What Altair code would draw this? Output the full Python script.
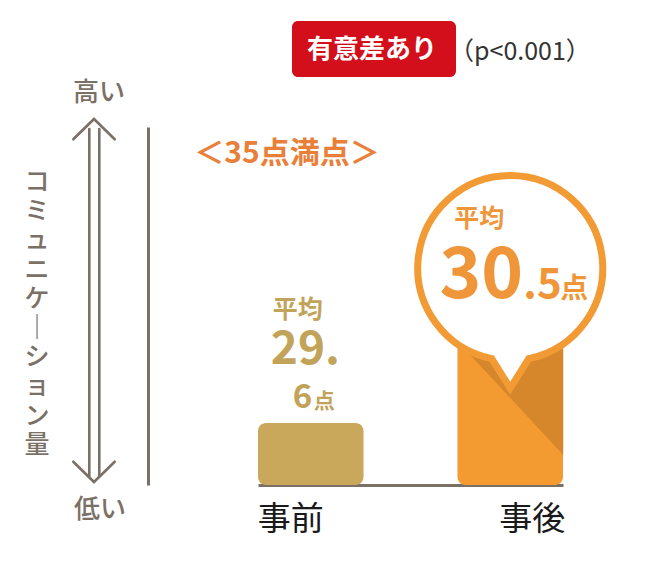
import altair as alt
import pandas as pd

# ---- data ----
categories = ["事前", "事後"]
scores = [29.6, 30.5]
bar_colors = ["#C9A85C", "#F39B31"]
text_colors = ["#C2A35A", "#F0963A"]
y_label_chars = ["コ", "ミ", "ュ", "ニ", "ケ", "｜", "シ", "ョ", "ン", "量"]
full_marks_text = "＜35点満点＞"
sig_text = "有意差あり"
p_text = "（p<0.001）"
high_text = "高い"
low_text = "低い"
avg_text = "平均"
unit_text = "点"

Y_MIN, Y_MAX = 29.15, 31.75

AX = "#7B7066"
DARK = "#D6862B"
RING = "#F29A33"
FONT = "Noto Sans CJK JP"

df = pd.DataFrame({"cat": categories, "score": scores,
                   "color": bar_colors, "tcolor": text_colors})
ann = pd.DataFrame({"k": [0]})

x_enc = alt.X("cat:N", sort=categories,
              scale=alt.Scale(domain=categories, range=[110, 415],
                              paddingInner=0.471, paddingOuter=0),
              axis=alt.Axis(title=None, labels=False, ticks=False, grid=False,
                            domainColor=AX, domainWidth=3, orient="bottom"))
y_enc = alt.Y("score:Q", scale=alt.Scale(domain=[Y_MIN, Y_MAX], zero=False, nice=False),
              axis=alt.Axis(title=None, labels=False, ticks=False, grid=False,
                            domainColor=AX, domainWidth=3))

base = alt.Chart(df).transform_calculate(
    ip="split(format(datum.score, '.1f'), '.')[0]",
    dp="split(format(datum.score, '.1f'), '.')[1]",
)

bars = base.mark_bar(cornerRadius=8).encode(
    x=x_enc, y=y_enc, y2=alt.datum(Y_MIN),
    color=alt.Color("color:N", scale=None, legend=None))

after = base.transform_filter(alt.datum.cat == categories[1])
before = base.transform_filter(alt.datum.cat == categories[0])

dark_tri = after.mark_point(shape="M -1 -1.075 L 1 -1.075 L 1 1.075 Z", size=11236,
                            filled=True, color=DARK, opacity=1, strokeWidth=0).encode(
    x=x_enc, y=alt.value(271))

bubble = after.mark_point(shape="M -0.2 0.98 A 1 1 0 1 1 0.2 0.98 L 0 1.3 Z", size=34225,
                          filled=False, fill="#FFFFFF", fillOpacity=1, stroke=RING,
                          strokeWidth=7, opacity=1, strokeJoin="miter").encode(
    x=x_enc, y=alt.value(141))

tc = alt.Color("tcolor:N", scale=None, legend=None)


def txt(src, text, dx, dy, size, align="left", baseline="alphabetic", weight="bold"):
    return src.mark_text(dx=dx, dy=dy, fontSize=size, align=align, baseline=baseline,
                         font=FONT, fontWeight=weight).encode(
        x=x_enc, y=y_enc, text=text, color=tc)


t_after_avg = txt(after, alt.value(avg_text), -31, -80, 25, align="center", baseline="middle")
t_after_int = txt(after, alt.Text("ip:N"), 13, -1, 71, align="right")
t_after_dec = after.transform_calculate(dd="'.' + datum.dp").mark_text(
    dx=13, dy=-1, fontSize=42, align="left", baseline="alphabetic", font=FONT,
    fontWeight="bold").encode(x=x_enc, y=y_enc, text="dd:N", color=tc)
t_after_unit = txt(after, alt.value(unit_text), 50, -1, 28)

t_before_avg = txt(before, alt.value(avg_text), -13, -113, 25, align="center", baseline="middle")
t_before_int = before.transform_calculate(ii="datum.ip + '.'").mark_text(
    dx=-40, dy=-59, fontSize=46, align="left", baseline="alphabetic", font=FONT,
    fontWeight="bold").encode(x=x_enc, y=y_enc, text="ii:N", color=tc)
t_before_dec = txt(before, alt.Text("dp:N"), -18, -15, 33)
t_before_unit = txt(before, alt.value(unit_text), 3, -15, 21)

lab_before = before.mark_text(dx=-20, fontSize=33, font=FONT, color="#1A1A1A",
                              baseline="middle").encode(
    x=x_enc, y=alt.value(393), text="cat:N")
lab_after = after.mark_text(dx=22, fontSize=33, font=FONT, color="#1A1A1A",
                            baseline="middle").encode(
    x=x_enc, y=alt.value(393), text="cat:N")

a = alt.Chart(ann)


def rule(x1, y1, x2, y2):
    return a.mark_rule(color=AX, strokeWidth=2.6, strokeCap="round").encode(
        x=alt.value(x1), y=alt.value(y1), x2=alt.value(x2), y2=alt.value(y2))


arrows = [
    rule(-58.7, 2, -58.7, 349),
    rule(-48.7, 2, -48.7, 349),
    rule(-74.7, 12.3, -54, -8),
    rule(-54, -8, -33.3, 12.3),
    rule(-74.7, 334.7, -54, 355),
    rule(-54, 355, -33.3, 334.7),
]

red_box = a.mark_rect(cornerRadius=6, color="#D20F1A").encode(
    x=alt.value(144), x2=alt.value(308), y=alt.value(-106), y2=alt.value(-50))
red_text = a.mark_text(fontSize=26, font=FONT, fontWeight="bold", color="#FFFFFF",
                       baseline="middle").encode(
    x=alt.value(224), y=alt.value(-77), text=alt.value(sig_text))
p_txt = a.mark_text(fontSize=25, font=FONT, color="#333333", align="left",
                    baseline="middle").encode(
    x=alt.value(301), y=alt.value(-75), text=alt.value(p_text))
full_txt = a.mark_text(fontSize=30, font=FONT, fontWeight="bold", color="#E8803A",
                       baseline="middle").encode(
    x=alt.value(139), y=alt.value(27), text=alt.value(full_marks_text))
high_txt = a.mark_text(fontSize=26, font=FONT, color=AX, baseline="middle",
                       fontWeight=500).encode(
    x=alt.value(-49), y=alt.value(-34), text=alt.value(high_text))
low_txt = a.mark_text(fontSize=26, font=FONT, color=AX, baseline="middle",
                      fontWeight=500).encode(
    x=alt.value(-48), y=alt.value(383), text=alt.value(low_text))
vert_txt = a.mark_text(fontSize=25, font=FONT, color=AX, baseline="top",
                       lineHeight=29.2, text=y_label_chars, fontWeight=500).encode(
    x=alt.value(-111), y=alt.value(43))

chart = alt.layer(
    bars, dark_tri, bubble,
    t_after_avg, t_after_int, t_after_dec, t_after_unit,
    t_before_avg, t_before_int, t_before_dec, t_before_unit,
    lab_before, lab_after,
    *arrows, red_box, red_text, p_txt, full_txt, high_txt, low_txt, vert_txt,
).properties(
    width=484, height=358, autosize="none", background="#FFFFFF",
    padding={"left": 140, "top": 119, "right": 10, "bottom": 71},
).configure_view(strokeWidth=0, stroke="transparent")

chart.save("out.html", embed_options={"renderer": "svg", "actions": False})
